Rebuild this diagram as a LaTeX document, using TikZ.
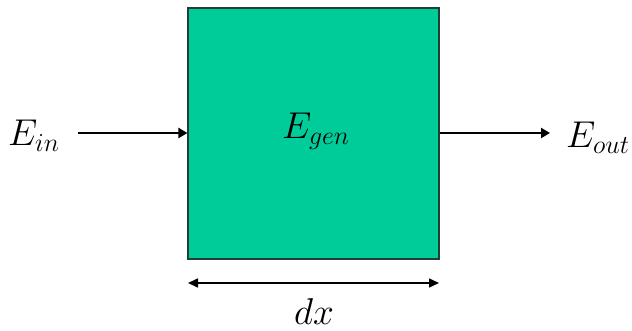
\documentclass[tikz,border=0pt]{standalone}
\usetikzlibrary{arrows.meta}
\definecolor{boxfill}{HTML}{00CC99}
\definecolor{boxline}{HTML}{1E3F35}
\begin{document}
\begin{tikzpicture}[x=1pt,y=-1pt,
  flow/.style={line width=2.8pt,-{Triangle[length=9pt,width=10pt]}},
  dim/.style={line width=1.6pt,{Triangle[length=10pt,width=9pt]}-{Triangle[length=10pt,width=9pt]}},
  lbl/.style={font=\huge,scale=1.8}]
\useasboundingbox (0,0) rectangle (632,331);
\node[draw=boxline,fill=boxfill,line width=1.2pt,minimum width=251pt,minimum height=251pt,inner sep=0pt] (box) at (313.5,133.5) {};
\node[lbl] (gen) at (316,131) {$E_{gen}$};
\node[lbl] (in) at (34,136) {$E_{in}$};
\node[lbl] (out) at (598,138) {$E_{out}$};
\coordinate (a) at (78,133);
\draw[flow] (a) -- (box.west |- a);
\coordinate (b) at (550,133);
\draw[flow] (box.east |- b) -- (b);
\coordinate (d1) at (188,283);
\coordinate (d2) at (439,283);
\draw[dim] (d1) -- (d2);
\node[lbl] (dx) at (314,312) {$dx$};
\end{tikzpicture}
\end{document}
